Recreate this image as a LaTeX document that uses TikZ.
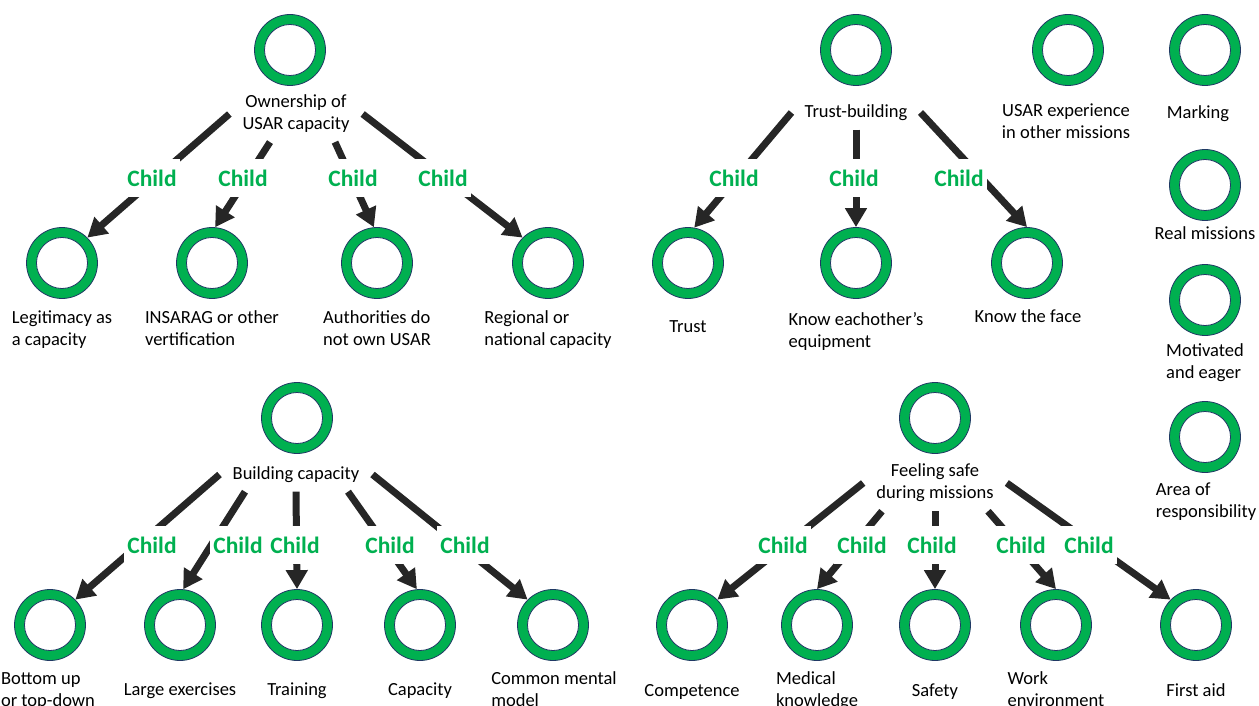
\documentclass[tikz,border=0pt]{standalone}
\usepackage{fontspec}
\setmainfont{Carlito}
\usetikzlibrary{arrows.meta,calc}

\definecolor{ringgreen}{HTML}{00B050}
\definecolor{ringedge}{HTML}{203864}
\definecolor{linkgray}{HTML}{262626}

\tikzset{
  ring/.style={circle, minimum size=71pt, inner sep=0pt, fill=ringgreen,
    draw=ringedge, line width=0.8pt,
    path picture={\draw[ringedge, line width=0.8pt, fill=white]
      (path picture bounding box.center) circle (25.5pt);}},
  txt/.style={font=\fontsize{18.5}{22}\selectfont, align=left, inner sep=0pt,
    anchor=base},
  head/.style={font=\fontsize{18.5}{22}\selectfont, align=center,
    inner xsep=13pt, inner ysep=9pt},
  child/.style={font=\bfseries\fontsize{23.5}{26}\selectfont, text=ringgreen,
    fill=white, inner xsep=3pt, inner ysep=11pt},
  link/.style={draw=linkgray, line width=7pt,
    -{Triangle[length=19pt,width=21pt]}},
}

\begin{document}
\begin{tikzpicture}[x=1pt,y=-1pt]
    \useasboundingbox (0,0) rectangle (1259,706);

    % ownership of USAR capacity
    \node[ring] (own) at (290,50) {};
    \node[head] (ownl) at (296,114) {Ownership of\\USAR capacity};
    \node[ring] (leg) at (62,263) {};
    \node[ring] (ins) at (212,263) {};
    \node[ring] (aut) at (377,263) {};
    \node[ring] (reg) at (548,263) {};
    \node[txt] (legl) at (62,345) {Legitimacy as\\a capacity};
    \node[txt] (insl) at (212,345) {INSARAG or other\\vertification};
    \node[txt] (autl) at (377,345) {Authorities do\\not own USAR};
    \node[txt] (regl) at (548,345) {Regional or\\national capacity};

    \draw[link] (ownl.west) -- (leg.45);
    \draw[link] ($(ownl.south)+(-26,0)$) -- (ins.85);
    \draw[link] ($(ownl.south)+(39,0)$) -- (aut.95);
    \draw[link] (ownl.east) -- (reg.135);
    \node[child] (ch1) at (152,178) {Child};
    \node[child] (ch2) at (243,178) {Child};
    \node[child] (ch3) at (353,178) {Child};
    \node[child] (ch4) at (443,178) {Child};

    % trust-building
    \node[ring] (tb) at (856,50) {};
    \node[head] (tbl) at (856,112.5) {Trust-building};
    \node[ring] (tru) at (688,263) {};
    \node[ring] (kno) at (856,263) {};
    \node[ring] (fac) at (1027,263) {};
    \node[txt] (trul) at (688,332) {Trust};
    \node[txt] (knol) at (856,347) {Know eachother’s\\equipment};
    \node[txt] (facl) at (1028,322) {Know the face};

    \draw[link] (tbl.west) -- (tru.80);
    \draw[link] (tbl.south) -- (kno.north);
    \draw[link] (tbl.east) -- (fac.north);
    \node[child] (ch5) at (734,178) {Child};
    \node[child] (ch6) at (854,178) {Child};
    \node[child] (ch7) at (959,178) {Child};

    % single codes
    \node[ring] (exp) at (1068,50) {};
    \node[txt, align=center] (expl) at (1066,139) {USAR experience\\in other missions};
    \node[ring] (mar) at (1205,50) {};
    \node[txt] (marl) at (1198,119) {Marking};
    \node[ring] (rea) at (1205,185) {};
    \node[txt] (real) at (1205,239) {Real missions};
    \node[ring] (mot) at (1205,300) {};
    \node[txt] (motl) at (1205,378) {Motivated\\and eager};
    \node[ring] (are) at (1205,437) {};
    \node[txt] (arel) at (1206,517) {Area of\\responsibility};

    % building capacity
    \node[ring] (bc) at (297,418) {};
    \node[head] (bcl) at (296,474.5) {Building capacity};
    \node[ring] (bot) at (50,625) {};
    \node[ring] (lar) at (180,625) {};
    \node[ring] (tra) at (297,625) {};
    \node[ring] (cap) at (420,625) {};
    \node[ring] (com) at (553,625) {};
    \node[txt] (botl) at (48,706) {Bottom up\\or top-down};
    \node[txt] (larl) at (180,695) {Large exercises};
    \node[txt] (tral) at (297,695) {Training};
    \node[txt] (capl) at (420,695) {Capacity};
    \node[txt] (coml) at (554,706) {Common mental\\model};

    \draw[link] (bcl.west) -- (bot.45);
    \draw[link] ($(bcl.south)+(-51,0)$) -- (lar.85);
    \draw[link] (bcl.south) -- (tra.north);
    \draw[link] ($(bcl.south)+(52,0)$) -- (cap.95);
    \draw[link] (bcl.east) -- (com.135);
    \node[child] (ch8) at (152,545) {Child};
    \node[child] (ch9) at (238,545) {Child};
    \node[child] (ch10) at (295,545) {Child};
    \node[child] (ch11) at (390,545) {Child};
    \node[child] (ch12) at (465,545) {Child};

    % feeling safe during missions
    \node[ring] (fs) at (935,418) {};
    \node[head] (fsl) at (935,483) {Feeling safe\\during missions};
    \node[ring] (cmp) at (692,625) {};
    \node[ring] (med) at (817,625) {};
    \node[ring] (saf) at (935,625) {};
    \node[ring] (wor) at (1056,625) {};
    \node[ring] (fir) at (1196,625) {};
    \node[txt] (cmpl) at (692,696) {Competence};
    \node[txt] (medl) at (817,706) {Medical\\knowledge};
    \node[txt] (safl) at (935,696) {Safety};
    \node[txt] (worl) at (1056,706) {Work\\environment};
    \node[txt] (firl) at (1196,696) {First aid};

    \draw[link] (fsl.west) -- (cmp.45);
    \draw[link] ($(fsl.south)+(-53,0)$) -- (med.north);
    \draw[link] (fsl.south) -- (saf.north);
    \draw[link] ($(fsl.south)+(53,0)$) -- (wor.north);
    \draw[link] (fsl.east) -- (fir.135);
    \node[child] (ch13) at (783,545) {Child};
    \node[child] (ch14) at (862,545) {Child};
    \node[child] (ch15) at (932,545) {Child};
    \node[child] (ch16) at (1021,545) {Child};
    \node[child] (ch17) at (1089,545) {Child};
\end{tikzpicture}
\end{document}
